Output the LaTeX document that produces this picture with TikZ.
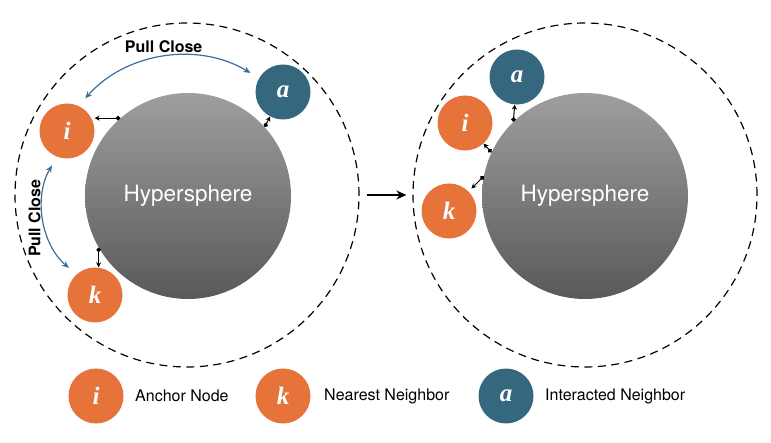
\documentclass[tikz,border=0pt]{standalone}
\usepackage{fontspec}
\setmainfont{TeX Gyre Heros}
\newfontfamily\letterfont{Liberation Serif}
\usetikzlibrary{arrows.meta,positioning}
\definecolor{nodeorange}{HTML}{E5733A}
\definecolor{nodeblue}{HTML}{35677F}
\definecolor{pullblue}{HTML}{3B6E9C}
\definecolor{hstop}{HTML}{9E9E9E}
\definecolor{hsbottom}{HTML}{595959}
\begin{document}
\begin{tikzpicture}[x=1pt, y=-1pt, >=Stealth,
		member/.style={circle, minimum size=55pt, inner sep=0pt, text=white,
			font=\letterfont\bfseries\itshape\fontsize{25}{25}\selectfont},
		anchornode/.style={member, fill=nodeorange},
		neighbor/.style={member, fill=nodeorange},
		interacted/.style={member, fill=nodeblue},
		sphere/.style={circle, minimum size=206pt, inner sep=0pt, text=white,
			top color=hstop, bottom color=hsbottom, font=\fontsize{22.5}{24}\selectfont},
		halo/.style={circle, minimum size=344pt, inner sep=0pt, draw, line width=1.2pt,
			dash pattern=on 8pt off 5.5pt},
		pin/.style={line width=1pt, {Circle[length=4.5pt]}-{Stealth[length=5pt, width=5pt]}},
		pull/.style={pullblue, line width=1.2pt, shorten <=10pt, shorten >=10pt,
			{Stealth[length=7pt, width=6pt]}-{Stealth[length=7pt, width=6pt]}},
		pulltext/.style={text=black, font=\bfseries\fontsize{16}{18}\selectfont},
		legendtext/.style={font=\fontsize{16}{19}\selectfont}]
	\useasboundingbox (0,0) rectangle (771,443);
	
	% Before
	\node[halo] (outL) at (187,195) {};
	\node[sphere] (hsL) at (188,196) {Hypersphere};
	\node[anchornode] (iL) at (67,131) {i};
	\node[interacted] (aL) at (283,92) {a};
	\node[neighbor] (kL) at (95,295) {k};
	
	\draw[pin] (hsL.131) -- (hsL.131 -| iL.east);
	\draw[pin] (hsL.42) -- (aL);
	\draw[pin] (hsL.210) -- (hsL.210 |- kL.north);
	
	\draw[pull] (iL.65) to[bend left=40] node[pulltext, midway, above=1pt] {Pull Close} (aL.150);
	\draw[pull] (iL.249) to[bend right=40] node[pulltext, midway, above=1pt, rotate=90] {Pull Close} (kL.132);
	
	% After
	\node[halo] (outR) at (585,195) {};
	\node[sphere] (hsR) at (585,196) {Hypersphere};
	\node[interacted] (aR) at (517,77) {a};
	\node[anchornode] (iR) at (465,123) {i};
	\node[neighbor] (kR) at (449,211) {k};
	
	\draw[pin] (hsR.134) -- (aR);
	\draw[pin] (hsR.155) -- (iR);
	\draw[pin, shorten >=4pt] (hsR.169) -- (kR);
	
	\draw[line width=2pt, -{Stealth[length=10pt, width=9pt]}, shorten <=7pt, shorten >=6pt] (outL.east) -- (outR.west);
	
	% Legend
	\node[anchornode] (legI) at (96,396) {i};
	\node[legendtext, right=8pt of legI] (legIText) {Anchor Node};
	\node[neighbor] (legK) at (283,396) {k};
	\node[legendtext, right=10pt of legK] (legKText) {Nearest Neighbor};
	\node[interacted] (legA) at (506,396) {a};
	\node[legendtext, right=8pt of legA] (legAText) {Interacted Neighbor};
\end{tikzpicture}
\end{document}
